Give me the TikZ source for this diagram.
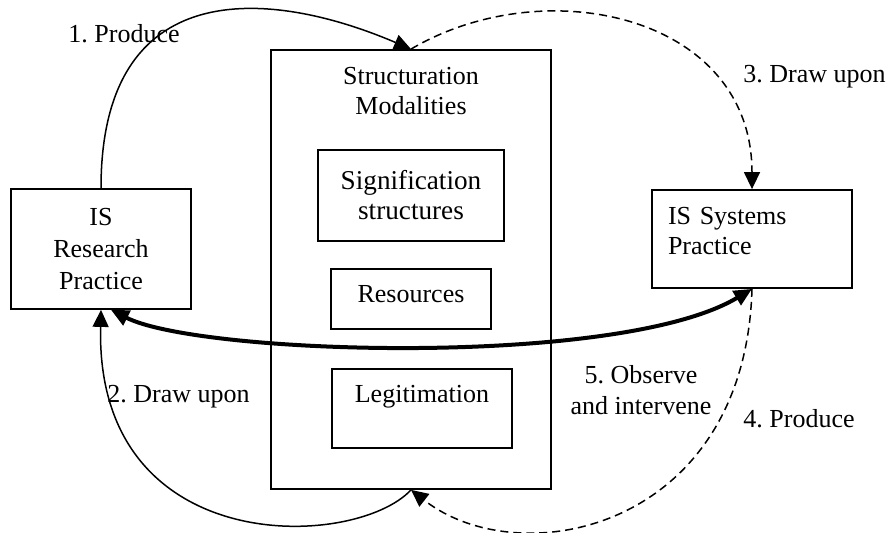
\documentclass[tikz,border=0pt]{standalone}
\usepackage{fontspec}
\setmainfont{Liberation Serif}
\usetikzlibrary{arrows.meta,positioning}
\frenchspacing
\begin{document}
\begin{tikzpicture}[x=0.5pt,y=0.5pt,
  box/.style={draw,line width=0.9pt,inner sep=0pt,align=center,font=\fontsize{13}{15}\selectfont},
  lbl/.style={inner sep=0pt,align=center,font=\fontsize{13}{15.5}\selectfont},
  flow/.style={line width=0.75pt,-{Triangle[length=8.5pt,width=8pt]}},
  dashflow/.style={flow,dash pattern=on 4pt off 2.5pt},
  both/.style={line width=2pt,{Triangle[length=9pt,width=8pt]}-{Triangle[length=9pt,width=8pt]}}]
\useasboundingbox (0,0) rectangle (888,-533);
\node[box,minimum width=90pt,minimum height=60pt,font=\fontsize{13}{16}\selectfont] (research) at (101,-249) {IS\\Research\\Practice};
\node[box,minimum width=140pt,minimum height=219.5pt] (modal) at (411,-269.5) {};
\node[lbl,below=8.7pt of modal.north,font=\fontsize{13}{15}\selectfont] (modaltitle) {Structuration\\Modalities};
\node[box,minimum width=93pt,minimum height=45.5pt,font=\fontsize{13.6}{15}\selectfont] (signif) at (411,-195.5) {Signification\\structures};
\node[box,minimum width=80pt,minimum height=30pt,text height=9pt,text depth=5pt] (resources) at (411,-299) {Resources};
\node[box,minimum width=90pt,minimum height=39.5pt,text height=9pt,text depth=14.5pt] (legit) at (422,-408.5) {Legitimation};
\node[box,minimum width=100pt,minimum height=49pt,text width=84pt,inner xsep=8pt,align=left,text height=9pt,text depth=23pt] (systems) at (752,-239) {IS Systems\\Practice};
\node[lbl,anchor=base west] (produce1) at (68,-43) {1. Produce};
\node[lbl,anchor=base west] (drawupon2) at (107,-403) {2. Draw upon};
\node[lbl,anchor=base west] (drawupon3) at (743,-83) {3. Draw upon};
\node[lbl,anchor=base west] (produce4) at (743,-428) {4. Produce};
\node[lbl,anchor=north] (observe5) at (641,-365) {5. Observe\\and intervene};
\draw[flow] (research.north) .. controls (101,25) and (268,12) .. (modal.north);
\draw[dashflow] (modal.north) .. controls (545,30) and (752,-15) .. (systems.north);
\draw[dashflow] (systems.south) .. controls (745,-530) and (520,-575) .. (modal.south);
\draw[flow] (modal.south) .. controls (355,-550) and (95,-560) .. (research.south);
\draw[both] ([xshift=5pt]research.south) .. controls (200,-355) and (620,-368) .. (systems.south);
\end{tikzpicture}
\end{document}
